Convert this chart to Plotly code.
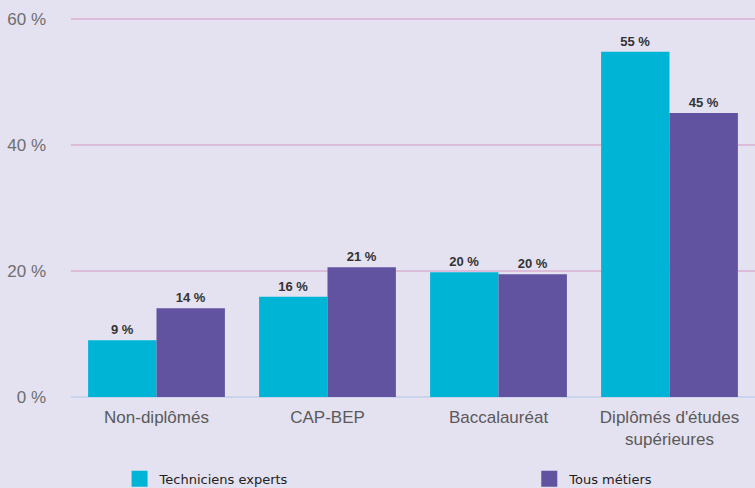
import plotly.graph_objects as go

categories = ["Non-diplômés", "CAP-BEP", "Baccalauréat", "Diplômés d'études<br>supérieures"]
techniciens = [9.0, 15.9, 19.8, 54.8]
tous = [14.1, 20.6, 19.5, 45.1]
techniciens_labels = ["9 %", "16 %", "20 %", "55 %"]
tous_labels = ["14 %", "21 %", "20 %", "45 %"]
y_ticks = [0, 20, 40, 60]
y_ticktext = ["0 %", "20 %", "40 %", "60 %"]
series_names = ["Techniciens experts", "Tous métiers"]
series_colors = ["#00b4d6", "#61539f"]

BG = "#e4e1f0"
lab_font = dict(family="Liberation Sans, Arial", size=13, color="#333333")

fig = go.Figure()
for vals, labels, name, color in [(techniciens, techniciens_labels, series_names[0], series_colors[0]),
                                  (tous, tous_labels, series_names[1], series_colors[1])]:
    fig.add_trace(go.Bar(
        x=categories, y=vals, name=name, showlegend=False,
        marker=dict(color=color, line=dict(width=0)),
        text=labels, textposition="outside", textfont=lab_font,
        texttemplate="<b>%{text}</b>", cliponaxis=False,
    ))

# legend entries (square swatches)
for i, (name, color) in enumerate(zip(series_names, series_colors)):
    fig.add_trace(go.Scatter(
        x=[None], y=[None], mode="markers", name=name,
        marker=dict(symbol="square", size=16, color=color),
        legend="legend" if i == 0 else "legend2",
    ))

leg_common = dict(
    orientation="h", y=-0.176, yanchor="top", xanchor="left",
    font=dict(family="DejaVu Sans", size=13, color="#222222"),
    bgcolor="rgba(0,0,0,0)", itemsizing="trace",
)

fig.update_layout(
    width=755, height=488,
    margin=dict(l=71, r=0, t=17, b=91, autoexpand=False),
    paper_bgcolor=BG, plot_bgcolor=BG,
    barmode="group", bargap=0.2, bargroupgap=0,
    legend=dict(x=0.071, **leg_common),
    legend2=dict(x=0.670, **leg_common),
    xaxis=dict(
        tickfont=dict(family="Liberation Sans, Arial", size=17, color="#5a5a5a"),
        showgrid=False, ticks="", showline=False, ticklabelstandoff=8,
    ),
    yaxis=dict(
        range=[0, 60.32], tickvals=y_ticks, ticktext=y_ticktext,
        tickfont=dict(family="Liberation Sans, Arial", size=17, color="#6e6e6e"),
        showgrid=True, gridcolor="#dcbcd9", gridwidth=2,
        zeroline=True, zerolinecolor="#c9d3ec", zerolinewidth=2,
        ticklabelstandoff=24, showline=False,
    ),
)

fig.write_html("out.html", config={"displayModeBar": False},
               post_script="document.body.style.margin='0';")
